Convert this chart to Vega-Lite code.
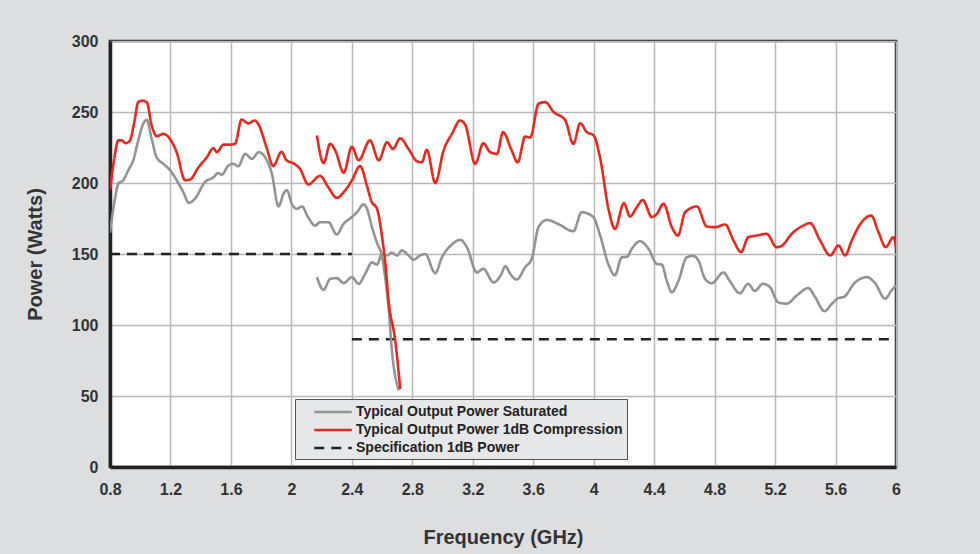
{
  "$schema": "https://vega.github.io/schema/vega-lite/v6.json",
  "autosize": {"type": "none"},
  "padding": {"left": 110, "top": 41, "right": 84, "bottom": 87},
  "width": 786,
  "height": 426,
  "background": "#dddee0",
  "datasets": {
    "lines": [
      {"series": "Specification 1dB Power", "seg": "s1", "freq": 0.8, "power": 150},
      {"series": "Specification 1dB Power", "seg": "s1", "freq": 2.4, "power": 150},
      {"series": "Specification 1dB Power", "seg": "s2", "freq": 2.4, "power": 90},
      {"series": "Specification 1dB Power", "seg": "s2", "freq": 6.0, "power": 90},

      {"series": "Typical Output Power Saturated", "seg": "g1", "freq": 0.8, "power": 165},
      {"series": "Typical Output Power Saturated", "seg": "g1", "freq": 0.833, "power": 189},
      {"series": "Typical Output Power Saturated", "seg": "g1", "freq": 0.855, "power": 199.5},
      {"series": "Typical Output Power Saturated", "seg": "g1", "freq": 0.888, "power": 202},
      {"series": "Typical Output Power Saturated", "seg": "g1", "freq": 0.921, "power": 209},
      {"series": "Typical Output Power Saturated", "seg": "g1", "freq": 0.954, "power": 216},
      {"series": "Typical Output Power Saturated", "seg": "g1", "freq": 0.987, "power": 230},
      {"series": "Typical Output Power Saturated", "seg": "g1", "freq": 1.02, "power": 241.7},
      {"series": "Typical Output Power Saturated", "seg": "g1", "freq": 1.043, "power": 244.5},
      {"series": "Typical Output Power Saturated", "seg": "g1", "freq": 1.076, "power": 231},
      {"series": "Typical Output Power Saturated", "seg": "g1", "freq": 1.109, "power": 218},
      {"series": "Typical Output Power Saturated", "seg": "g1", "freq": 1.153, "power": 213.5},
      {"series": "Typical Output Power Saturated", "seg": "g1", "freq": 1.197, "power": 209},
      {"series": "Typical Output Power Saturated", "seg": "g1", "freq": 1.241, "power": 202},
      {"series": "Typical Output Power Saturated", "seg": "g1", "freq": 1.285, "power": 193.5},
      {"series": "Typical Output Power Saturated", "seg": "g1", "freq": 1.322, "power": 186},
      {"series": "Typical Output Power Saturated", "seg": "g1", "freq": 1.362, "power": 189},
      {"series": "Typical Output Power Saturated", "seg": "g1", "freq": 1.428, "power": 200.6},
      {"series": "Typical Output Power Saturated", "seg": "g1", "freq": 1.484, "power": 204},
      {"series": "Typical Output Power Saturated", "seg": "g1", "freq": 1.517, "power": 207},
      {"series": "Typical Output Power Saturated", "seg": "g1", "freq": 1.539, "power": 205.8},
      {"series": "Typical Output Power Saturated", "seg": "g1", "freq": 1.583, "power": 212.3},
      {"series": "Typical Output Power Saturated", "seg": "g1", "freq": 1.616, "power": 213.5},
      {"series": "Typical Output Power Saturated", "seg": "g1", "freq": 1.649, "power": 211.8},
      {"series": "Typical Output Power Saturated", "seg": "g1", "freq": 1.694, "power": 220.5},
      {"series": "Typical Output Power Saturated", "seg": "g1", "freq": 1.739, "power": 217},
      {"series": "Typical Output Power Saturated", "seg": "g1", "freq": 1.783, "power": 221.7},
      {"series": "Typical Output Power Saturated", "seg": "g1", "freq": 1.827, "power": 218},
      {"series": "Typical Output Power Saturated", "seg": "g1", "freq": 1.871, "power": 206.5},
      {"series": "Typical Output Power Saturated", "seg": "g1", "freq": 1.915, "power": 183.5},
      {"series": "Typical Output Power Saturated", "seg": "g1", "freq": 1.948, "power": 192.4},
      {"series": "Typical Output Power Saturated", "seg": "g1", "freq": 1.97, "power": 195},
      {"series": "Typical Output Power Saturated", "seg": "g1", "freq": 2.004, "power": 185},
      {"series": "Typical Output Power Saturated", "seg": "g1", "freq": 2.037, "power": 181.8},
      {"series": "Typical Output Power Saturated", "seg": "g1", "freq": 2.07, "power": 183.5},
      {"series": "Typical Output Power Saturated", "seg": "g1", "freq": 2.11, "power": 176},
      {"series": "Typical Output Power Saturated", "seg": "g1", "freq": 2.158, "power": 170},
      {"series": "Typical Output Power Saturated", "seg": "g1", "freq": 2.19, "power": 172.4},
      {"series": "Typical Output Power Saturated", "seg": "g1", "freq": 2.245, "power": 172.4},
      {"series": "Typical Output Power Saturated", "seg": "g1", "freq": 2.3, "power": 163.7},
      {"series": "Typical Output Power Saturated", "seg": "g1", "freq": 2.344, "power": 171},
      {"series": "Typical Output Power Saturated", "seg": "g1", "freq": 2.4, "power": 176},
      {"series": "Typical Output Power Saturated", "seg": "g1", "freq": 2.434, "power": 179.4},
      {"series": "Typical Output Power Saturated", "seg": "g1", "freq": 2.478, "power": 185},
      {"series": "Typical Output Power Saturated", "seg": "g1", "freq": 2.5, "power": 182},
      {"series": "Typical Output Power Saturated", "seg": "g1", "freq": 2.533, "power": 169},
      {"series": "Typical Output Power Saturated", "seg": "g1", "freq": 2.566, "power": 158},
      {"series": "Typical Output Power Saturated", "seg": "g1", "freq": 2.6, "power": 148},
      {"series": "Typical Output Power Saturated", "seg": "g1", "freq": 2.625, "power": 130},
      {"series": "Typical Output Power Saturated", "seg": "g1", "freq": 2.643, "power": 112.5},
      {"series": "Typical Output Power Saturated", "seg": "g1", "freq": 2.665, "power": 82},
      {"series": "Typical Output Power Saturated", "seg": "g1", "freq": 2.71, "power": 54},

      {"series": "Typical Output Power Saturated", "seg": "g2", "freq": 2.169, "power": 133.7},
      {"series": "Typical Output Power Saturated", "seg": "g2", "freq": 2.213, "power": 124.8},
      {"series": "Typical Output Power Saturated", "seg": "g2", "freq": 2.257, "power": 132.5},
      {"series": "Typical Output Power Saturated", "seg": "g2", "freq": 2.3, "power": 133},
      {"series": "Typical Output Power Saturated", "seg": "g2", "freq": 2.346, "power": 129.5},
      {"series": "Typical Output Power Saturated", "seg": "g2", "freq": 2.4, "power": 133.7},
      {"series": "Typical Output Power Saturated", "seg": "g2", "freq": 2.445, "power": 129},
      {"series": "Typical Output Power Saturated", "seg": "g2", "freq": 2.488, "power": 136},
      {"series": "Typical Output Power Saturated", "seg": "g2", "freq": 2.533, "power": 144},
      {"series": "Typical Output Power Saturated", "seg": "g2", "freq": 2.566, "power": 142.6},
      {"series": "Typical Output Power Saturated", "seg": "g2", "freq": 2.6, "power": 150},
      {"series": "Typical Output Power Saturated", "seg": "g2", "freq": 2.633, "power": 149},
      {"series": "Typical Output Power Saturated", "seg": "g2", "freq": 2.665, "power": 151},
      {"series": "Typical Output Power Saturated", "seg": "g2", "freq": 2.7, "power": 149},
      {"series": "Typical Output Power Saturated", "seg": "g2", "freq": 2.73, "power": 152.5},
      {"series": "Typical Output Power Saturated", "seg": "g2", "freq": 2.775, "power": 149},
      {"series": "Typical Output Power Saturated", "seg": "g2", "freq": 2.808, "power": 146},
      {"series": "Typical Output Power Saturated", "seg": "g2", "freq": 2.852, "power": 149},
      {"series": "Typical Output Power Saturated", "seg": "g2", "freq": 2.885, "power": 150},
      {"series": "Typical Output Power Saturated", "seg": "g2", "freq": 2.952, "power": 136.5},
      {"series": "Typical Output Power Saturated", "seg": "g2", "freq": 2.996, "power": 147.7},
      {"series": "Typical Output Power Saturated", "seg": "g2", "freq": 3.062, "power": 156.7},
      {"series": "Typical Output Power Saturated", "seg": "g2", "freq": 3.117, "power": 160},
      {"series": "Typical Output Power Saturated", "seg": "g2", "freq": 3.161, "power": 154.8},
      {"series": "Typical Output Power Saturated", "seg": "g2", "freq": 3.227, "power": 137},
      {"series": "Typical Output Power Saturated", "seg": "g2", "freq": 3.27, "power": 139.6},
      {"series": "Typical Output Power Saturated", "seg": "g2", "freq": 3.337, "power": 130},
      {"series": "Typical Output Power Saturated", "seg": "g2", "freq": 3.39, "power": 136},
      {"series": "Typical Output Power Saturated", "seg": "g2", "freq": 3.415, "power": 141.4},
      {"series": "Typical Output Power Saturated", "seg": "g2", "freq": 3.448, "power": 136},
      {"series": "Typical Output Power Saturated", "seg": "g2", "freq": 3.49, "power": 132},
      {"series": "Typical Output Power Saturated", "seg": "g2", "freq": 3.547, "power": 140.7},
      {"series": "Typical Output Power Saturated", "seg": "g2", "freq": 3.59, "power": 146.6},
      {"series": "Typical Output Power Saturated", "seg": "g2", "freq": 3.635, "power": 169},
      {"series": "Typical Output Power Saturated", "seg": "g2", "freq": 3.69, "power": 174},
      {"series": "Typical Output Power Saturated", "seg": "g2", "freq": 3.767, "power": 171},
      {"series": "Typical Output Power Saturated", "seg": "g2", "freq": 3.866, "power": 166},
      {"series": "Typical Output Power Saturated", "seg": "g2", "freq": 3.92, "power": 179.4},
      {"series": "Typical Output Power Saturated", "seg": "g2", "freq": 3.998, "power": 176},
      {"series": "Typical Output Power Saturated", "seg": "g2", "freq": 4.04, "power": 164},
      {"series": "Typical Output Power Saturated", "seg": "g2", "freq": 4.1, "power": 142},
      {"series": "Typical Output Power Saturated", "seg": "g2", "freq": 4.14, "power": 135},
      {"series": "Typical Output Power Saturated", "seg": "g2", "freq": 4.186, "power": 147.7},
      {"series": "Typical Output Power Saturated", "seg": "g2", "freq": 4.22, "power": 148},
      {"series": "Typical Output Power Saturated", "seg": "g2", "freq": 4.252, "power": 153.6},
      {"series": "Typical Output Power Saturated", "seg": "g2", "freq": 4.307, "power": 159},
      {"series": "Typical Output Power Saturated", "seg": "g2", "freq": 4.363, "power": 153.6},
      {"series": "Typical Output Power Saturated", "seg": "g2", "freq": 4.418, "power": 143},
      {"series": "Typical Output Power Saturated", "seg": "g2", "freq": 4.45, "power": 142.6},
      {"series": "Typical Output Power Saturated", "seg": "g2", "freq": 4.484, "power": 131},
      {"series": "Typical Output Power Saturated", "seg": "g2", "freq": 4.517, "power": 123},
      {"series": "Typical Output Power Saturated", "seg": "g2", "freq": 4.56, "power": 131},
      {"series": "Typical Output Power Saturated", "seg": "g2", "freq": 4.616, "power": 147.7},
      {"series": "Typical Output Power Saturated", "seg": "g2", "freq": 4.66, "power": 148.7},
      {"series": "Typical Output Power Saturated", "seg": "g2", "freq": 4.693, "power": 145.4},
      {"series": "Typical Output Power Saturated", "seg": "g2", "freq": 4.737, "power": 132.5},
      {"series": "Typical Output Power Saturated", "seg": "g2", "freq": 4.781, "power": 129.4},
      {"series": "Typical Output Power Saturated", "seg": "g2", "freq": 4.858, "power": 137},
      {"series": "Typical Output Power Saturated", "seg": "g2", "freq": 4.9, "power": 131},
      {"series": "Typical Output Power Saturated", "seg": "g2", "freq": 4.967, "power": 122.4},
      {"series": "Typical Output Power Saturated", "seg": "g2", "freq": 5.022, "power": 129},
      {"series": "Typical Output Power Saturated", "seg": "g2", "freq": 5.066, "power": 124},
      {"series": "Typical Output Power Saturated", "seg": "g2", "freq": 5.12, "power": 129},
      {"series": "Typical Output Power Saturated", "seg": "g2", "freq": 5.167, "power": 126.6},
      {"series": "Typical Output Power Saturated", "seg": "g2", "freq": 5.22, "power": 116},
      {"series": "Typical Output Power Saturated", "seg": "g2", "freq": 5.276, "power": 115},
      {"series": "Typical Output Power Saturated", "seg": "g2", "freq": 5.344, "power": 120.8},
      {"series": "Typical Output Power Saturated", "seg": "g2", "freq": 5.42, "power": 126},
      {"series": "Typical Output Power Saturated", "seg": "g2", "freq": 5.465, "power": 119.6},
      {"series": "Typical Output Power Saturated", "seg": "g2", "freq": 5.527, "power": 109.7},
      {"series": "Typical Output Power Saturated", "seg": "g2", "freq": 5.576, "power": 115},
      {"series": "Typical Output Power Saturated", "seg": "g2", "freq": 5.62, "power": 119},
      {"series": "Typical Output Power Saturated", "seg": "g2", "freq": 5.652, "power": 119.6},
      {"series": "Typical Output Power Saturated", "seg": "g2", "freq": 5.73, "power": 130},
      {"series": "Typical Output Power Saturated", "seg": "g2", "freq": 5.807, "power": 133.7},
      {"series": "Typical Output Power Saturated", "seg": "g2", "freq": 5.862, "power": 129.4},
      {"series": "Typical Output Power Saturated", "seg": "g2", "freq": 5.928, "power": 118.5},
      {"series": "Typical Output Power Saturated", "seg": "g2", "freq": 5.97, "power": 124.3},
      {"series": "Typical Output Power Saturated", "seg": "g2", "freq": 6.0, "power": 127.8},

      {"series": "Typical Output Power 1dB Compression", "seg": "r1", "freq": 0.8, "power": 195},
      {"series": "Typical Output Power 1dB Compression", "seg": "r1", "freq": 0.828, "power": 217},
      {"series": "Typical Output Power 1dB Compression", "seg": "r1", "freq": 0.855, "power": 230},
      {"series": "Typical Output Power 1dB Compression", "seg": "r1", "freq": 0.877, "power": 230},
      {"series": "Typical Output Power 1dB Compression", "seg": "r1", "freq": 0.904, "power": 228},
      {"series": "Typical Output Power 1dB Compression", "seg": "r1", "freq": 0.932, "power": 230},
      {"series": "Typical Output Power 1dB Compression", "seg": "r1", "freq": 0.961, "power": 243},
      {"series": "Typical Output Power 1dB Compression", "seg": "r1", "freq": 0.987, "power": 257},
      {"series": "Typical Output Power 1dB Compression", "seg": "r1", "freq": 1.014, "power": 258},
      {"series": "Typical Output Power 1dB Compression", "seg": "r1", "freq": 1.043, "power": 257},
      {"series": "Typical Output Power 1dB Compression", "seg": "r1", "freq": 1.076, "power": 240.5},
      {"series": "Typical Output Power 1dB Compression", "seg": "r1", "freq": 1.109, "power": 233},
      {"series": "Typical Output Power 1dB Compression", "seg": "r1", "freq": 1.153, "power": 234.6},
      {"series": "Typical Output Power 1dB Compression", "seg": "r1", "freq": 1.197, "power": 231},
      {"series": "Typical Output Power 1dB Compression", "seg": "r1", "freq": 1.241, "power": 221.7},
      {"series": "Typical Output Power 1dB Compression", "seg": "r1", "freq": 1.297, "power": 202},
      {"series": "Typical Output Power 1dB Compression", "seg": "r1", "freq": 1.33, "power": 202.5},
      {"series": "Typical Output Power 1dB Compression", "seg": "r1", "freq": 1.385, "power": 211},
      {"series": "Typical Output Power 1dB Compression", "seg": "r1", "freq": 1.44, "power": 218},
      {"series": "Typical Output Power 1dB Compression", "seg": "r1", "freq": 1.484, "power": 224.5},
      {"series": "Typical Output Power 1dB Compression", "seg": "r1", "freq": 1.507, "power": 221.7},
      {"series": "Typical Output Power 1dB Compression", "seg": "r1", "freq": 1.55, "power": 227},
      {"series": "Typical Output Power 1dB Compression", "seg": "r1", "freq": 1.594, "power": 227},
      {"series": "Typical Output Power 1dB Compression", "seg": "r1", "freq": 1.627, "power": 227.6},
      {"series": "Typical Output Power 1dB Compression", "seg": "r1", "freq": 1.671, "power": 244.7},
      {"series": "Typical Output Power 1dB Compression", "seg": "r1", "freq": 1.714, "power": 242},
      {"series": "Typical Output Power 1dB Compression", "seg": "r1", "freq": 1.758, "power": 244},
      {"series": "Typical Output Power 1dB Compression", "seg": "r1", "freq": 1.78, "power": 241.7},
      {"series": "Typical Output Power 1dB Compression", "seg": "r1", "freq": 1.836, "power": 225},
      {"series": "Typical Output Power 1dB Compression", "seg": "r1", "freq": 1.88, "power": 212},
      {"series": "Typical Output Power 1dB Compression", "seg": "r1", "freq": 1.935, "power": 222},
      {"series": "Typical Output Power 1dB Compression", "seg": "r1", "freq": 1.968, "power": 216},
      {"series": "Typical Output Power 1dB Compression", "seg": "r1", "freq": 2.012, "power": 214},
      {"series": "Typical Output Power 1dB Compression", "seg": "r1", "freq": 2.057, "power": 210},
      {"series": "Typical Output Power 1dB Compression", "seg": "r1", "freq": 2.112, "power": 199},
      {"series": "Typical Output Power 1dB Compression", "seg": "r1", "freq": 2.19, "power": 205},
      {"series": "Typical Output Power 1dB Compression", "seg": "r1", "freq": 2.244, "power": 197},
      {"series": "Typical Output Power 1dB Compression", "seg": "r1", "freq": 2.3, "power": 189.6},
      {"series": "Typical Output Power 1dB Compression", "seg": "r1", "freq": 2.355, "power": 194.7},
      {"series": "Typical Output Power 1dB Compression", "seg": "r1", "freq": 2.4, "power": 201.8},
      {"series": "Typical Output Power 1dB Compression", "seg": "r1", "freq": 2.455, "power": 212},
      {"series": "Typical Output Power 1dB Compression", "seg": "r1", "freq": 2.5, "power": 198},
      {"series": "Typical Output Power 1dB Compression", "seg": "r1", "freq": 2.53, "power": 187},
      {"series": "Typical Output Power 1dB Compression", "seg": "r1", "freq": 2.566, "power": 182},
      {"series": "Typical Output Power 1dB Compression", "seg": "r1", "freq": 2.6, "power": 162},
      {"series": "Typical Output Power 1dB Compression", "seg": "r1", "freq": 2.62, "power": 145},
      {"series": "Typical Output Power 1dB Compression", "seg": "r1", "freq": 2.643, "power": 117},
      {"series": "Typical Output Power 1dB Compression", "seg": "r1", "freq": 2.687, "power": 89},
      {"series": "Typical Output Power 1dB Compression", "seg": "r1", "freq": 2.72, "power": 55},

      {"series": "Typical Output Power 1dB Compression", "seg": "r2", "freq": 2.169, "power": 233.5},
      {"series": "Typical Output Power 1dB Compression", "seg": "r2", "freq": 2.213, "power": 214},
      {"series": "Typical Output Power 1dB Compression", "seg": "r2", "freq": 2.257, "power": 227.6},
      {"series": "Typical Output Power 1dB Compression", "seg": "r2", "freq": 2.29, "power": 223},
      {"series": "Typical Output Power 1dB Compression", "seg": "r2", "freq": 2.346, "power": 207.3},
      {"series": "Typical Output Power 1dB Compression", "seg": "r2", "freq": 2.4, "power": 225.5},
      {"series": "Typical Output Power 1dB Compression", "seg": "r2", "freq": 2.445, "power": 216},
      {"series": "Typical Output Power 1dB Compression", "seg": "r2", "freq": 2.52, "power": 230},
      {"series": "Typical Output Power 1dB Compression", "seg": "r2", "freq": 2.578, "power": 216},
      {"series": "Typical Output Power 1dB Compression", "seg": "r2", "freq": 2.633, "power": 228.7},
      {"series": "Typical Output Power 1dB Compression", "seg": "r2", "freq": 2.672, "power": 224},
      {"series": "Typical Output Power 1dB Compression", "seg": "r2", "freq": 2.72, "power": 231.5},
      {"series": "Typical Output Power 1dB Compression", "seg": "r2", "freq": 2.775, "power": 224},
      {"series": "Typical Output Power 1dB Compression", "seg": "r2", "freq": 2.83, "power": 215.4},
      {"series": "Typical Output Power 1dB Compression", "seg": "r2", "freq": 2.863, "power": 214.6},
      {"series": "Typical Output Power 1dB Compression", "seg": "r2", "freq": 2.896, "power": 223.4},
      {"series": "Typical Output Power 1dB Compression", "seg": "r2", "freq": 2.952, "power": 200},
      {"series": "Typical Output Power 1dB Compression", "seg": "r2", "freq": 3.007, "power": 223},
      {"series": "Typical Output Power 1dB Compression", "seg": "r2", "freq": 3.062, "power": 234.6},
      {"series": "Typical Output Power 1dB Compression", "seg": "r2", "freq": 3.117, "power": 244},
      {"series": "Typical Output Power 1dB Compression", "seg": "r2", "freq": 3.15, "power": 241},
      {"series": "Typical Output Power 1dB Compression", "seg": "r2", "freq": 3.216, "power": 213.5},
      {"series": "Typical Output Power 1dB Compression", "seg": "r2", "freq": 3.27, "power": 228},
      {"series": "Typical Output Power 1dB Compression", "seg": "r2", "freq": 3.315, "power": 221.7},
      {"series": "Typical Output Power 1dB Compression", "seg": "r2", "freq": 3.36, "power": 220.5},
      {"series": "Typical Output Power 1dB Compression", "seg": "r2", "freq": 3.4, "power": 235.8},
      {"series": "Typical Output Power 1dB Compression", "seg": "r2", "freq": 3.457, "power": 223},
      {"series": "Typical Output Power 1dB Compression", "seg": "r2", "freq": 3.497, "power": 214.6},
      {"series": "Typical Output Power 1dB Compression", "seg": "r2", "freq": 3.547, "power": 232.7},
      {"series": "Typical Output Power 1dB Compression", "seg": "r2", "freq": 3.58, "power": 232},
      {"series": "Typical Output Power 1dB Compression", "seg": "r2", "freq": 3.635, "power": 255.8},
      {"series": "Typical Output Power 1dB Compression", "seg": "r2", "freq": 3.68, "power": 257},
      {"series": "Typical Output Power 1dB Compression", "seg": "r2", "freq": 3.735, "power": 250},
      {"series": "Typical Output Power 1dB Compression", "seg": "r2", "freq": 3.81, "power": 244.5},
      {"series": "Typical Output Power 1dB Compression", "seg": "r2", "freq": 3.866, "power": 227.6},
      {"series": "Typical Output Power 1dB Compression", "seg": "r2", "freq": 3.91, "power": 242},
      {"series": "Typical Output Power 1dB Compression", "seg": "r2", "freq": 3.955, "power": 235.8},
      {"series": "Typical Output Power 1dB Compression", "seg": "r2", "freq": 4.0, "power": 233.5},
      {"series": "Typical Output Power 1dB Compression", "seg": "r2", "freq": 4.04, "power": 219},
      {"series": "Typical Output Power 1dB Compression", "seg": "r2", "freq": 4.1, "power": 180.6},
      {"series": "Typical Output Power 1dB Compression", "seg": "r2", "freq": 4.14, "power": 167.7},
      {"series": "Typical Output Power 1dB Compression", "seg": "r2", "freq": 4.2, "power": 185.8},
      {"series": "Typical Output Power 1dB Compression", "seg": "r2", "freq": 4.24, "power": 176.4},
      {"series": "Typical Output Power 1dB Compression", "seg": "r2", "freq": 4.285, "power": 183},
      {"series": "Typical Output Power 1dB Compression", "seg": "r2", "freq": 4.325, "power": 188},
      {"series": "Typical Output Power 1dB Compression", "seg": "r2", "freq": 4.385, "power": 176},
      {"series": "Typical Output Power 1dB Compression", "seg": "r2", "freq": 4.418, "power": 178.3},
      {"series": "Typical Output Power 1dB Compression", "seg": "r2", "freq": 4.462, "power": 185.4},
      {"series": "Typical Output Power 1dB Compression", "seg": "r2", "freq": 4.517, "power": 168.9},
      {"series": "Typical Output Power 1dB Compression", "seg": "r2", "freq": 4.557, "power": 163},
      {"series": "Typical Output Power 1dB Compression", "seg": "r2", "freq": 4.605, "power": 179.4},
      {"series": "Typical Output Power 1dB Compression", "seg": "r2", "freq": 4.683, "power": 183.5},
      {"series": "Typical Output Power 1dB Compression", "seg": "r2", "freq": 4.748, "power": 169.4},
      {"series": "Typical Output Power 1dB Compression", "seg": "r2", "freq": 4.803, "power": 168.9},
      {"series": "Typical Output Power 1dB Compression", "seg": "r2", "freq": 4.87, "power": 170.8},
      {"series": "Typical Output Power 1dB Compression", "seg": "r2", "freq": 4.925, "power": 159.5},
      {"series": "Typical Output Power 1dB Compression", "seg": "r2", "freq": 4.975, "power": 151.3},
      {"series": "Typical Output Power 1dB Compression", "seg": "r2", "freq": 5.022, "power": 161.8},
      {"series": "Typical Output Power 1dB Compression", "seg": "r2", "freq": 5.078, "power": 163},
      {"series": "Typical Output Power 1dB Compression", "seg": "r2", "freq": 5.145, "power": 164.2},
      {"series": "Typical Output Power 1dB Compression", "seg": "r2", "freq": 5.21, "power": 154.8},
      {"series": "Typical Output Power 1dB Compression", "seg": "r2", "freq": 5.244, "power": 155.8},
      {"series": "Typical Output Power 1dB Compression", "seg": "r2", "freq": 5.31, "power": 164.2},
      {"series": "Typical Output Power 1dB Compression", "seg": "r2", "freq": 5.376, "power": 169.4},
      {"series": "Typical Output Power 1dB Compression", "seg": "r2", "freq": 5.432, "power": 171.7},
      {"series": "Typical Output Power 1dB Compression", "seg": "r2", "freq": 5.498, "power": 159.5},
      {"series": "Typical Output Power 1dB Compression", "seg": "r2", "freq": 5.565, "power": 149},
      {"series": "Typical Output Power 1dB Compression", "seg": "r2", "freq": 5.62, "power": 156},
      {"series": "Typical Output Power 1dB Compression", "seg": "r2", "freq": 5.663, "power": 149},
      {"series": "Typical Output Power 1dB Compression", "seg": "r2", "freq": 5.707, "power": 159.5},
      {"series": "Typical Output Power 1dB Compression", "seg": "r2", "freq": 5.763, "power": 171},
      {"series": "Typical Output Power 1dB Compression", "seg": "r2", "freq": 5.836, "power": 177},
      {"series": "Typical Output Power 1dB Compression", "seg": "r2", "freq": 5.884, "power": 165.4},
      {"series": "Typical Output Power 1dB Compression", "seg": "r2", "freq": 5.932, "power": 154.8},
      {"series": "Typical Output Power 1dB Compression", "seg": "r2", "freq": 5.983, "power": 161.8},
      {"series": "Typical Output Power 1dB Compression", "seg": "r2", "freq": 6.0, "power": 154.8}
    ]
  },
  "data": {"name": "lines"},
  "mark": {"type": "line", "interpolate": "monotone", "clip": true},
  "encoding": {
    "x": {
      "field": "freq", "type": "quantitative",
      "scale": {"domain": [0.8, 6], "nice": false, "zero": false},
      "axis": {
        "title": "Frequency (GHz)",
        "values": [0.8, 1.2, 1.6, 2, 2.4, 2.8, 3.2, 3.6, 4, 4.4, 4.8, 5.2, 5.6, 6],
        "format": "~g",
        "labelFlush": false,
        "labelPadding": 14,
        "titlePadding": 30
      }
    },
    "y": {
      "field": "power", "type": "quantitative",
      "scale": {"domain": [0, 300], "nice": false},
      "axis": {
        "title": "Power (Watts)",
        "values": [0, 50, 100, 150, 200, 250, 300],
        "labelFlush": false,
        "labelPadding": 12,
        "titlePadding": 26
      }
    },
    "detail": {"field": "seg", "type": "nominal"},
    "color": {
      "field": "series", "type": "nominal",
      "scale": {
        "domain": ["Typical Output Power Saturated", "Typical Output Power 1dB Compression", "Specification 1dB Power"],
        "range": ["#939393", "#e8281e", "#222222"]
      },
      "legend": {
        "orient": "none",
        "legendX": 185,
        "legendY": 358,
        "title": null,
        "fillColor": "#e6e7e8",
        "strokeColor": "#555555",
        "padding": 4,
        "symbolType": "M-2.5,0H2.5",
        "symbolSize": 225,
        "symbolStrokeWidth": 3,
        "symbolOffset": 25,
        "labelOffset": 14,
        "rowPadding": 2,
        "labelFont": "Liberation Sans",
        "labelFontWeight": "bold",
        "labelFontSize": 14,
        "labelColor": "#222222",
        "labelLimit": 400,
        "labelExpr": "datum.label + '\u2003'"
      }
    },
    "strokeDash": {
      "field": "series", "type": "nominal",
      "scale": {
        "domain": ["Typical Output Power Saturated", "Typical Output Power 1dB Compression", "Specification 1dB Power"],
        "range": [[1, 0], [1, 0], [10, 7]]
      },
      "legend": null
    },
    "strokeWidth": {
      "field": "series", "type": "nominal",
      "scale": {
        "domain": ["Typical Output Power Saturated", "Typical Output Power 1dB Compression", "Specification 1dB Power"],
        "range": [2.6, 2.6, 3]
      },
      "legend": null
    },
    "order": {"field": "seg", "type": "nominal"}
  },
  "config": {
    "view": {"stroke": "#222222", "strokeWidth": 2.5, "fill": "#ffffff"},
    "axis": {
      "labelFont": "Liberation Sans",
      "labelFontWeight": "bold",
      "labelFontSize": 16,
      "labelColor": "#333333",
      "titleFont": "Liberation Sans",
      "titleFontWeight": "bold",
      "titleFontSize": 20,
      "titleColor": "#333333",
      "gridColor": "#b8b8b8",
      "gridWidth": 1.5,
      "gridOpacity": 1,
      "domainColor": "#222222",
      "domainWidth": 3.5,
      "ticks": false
    }
  }
}
